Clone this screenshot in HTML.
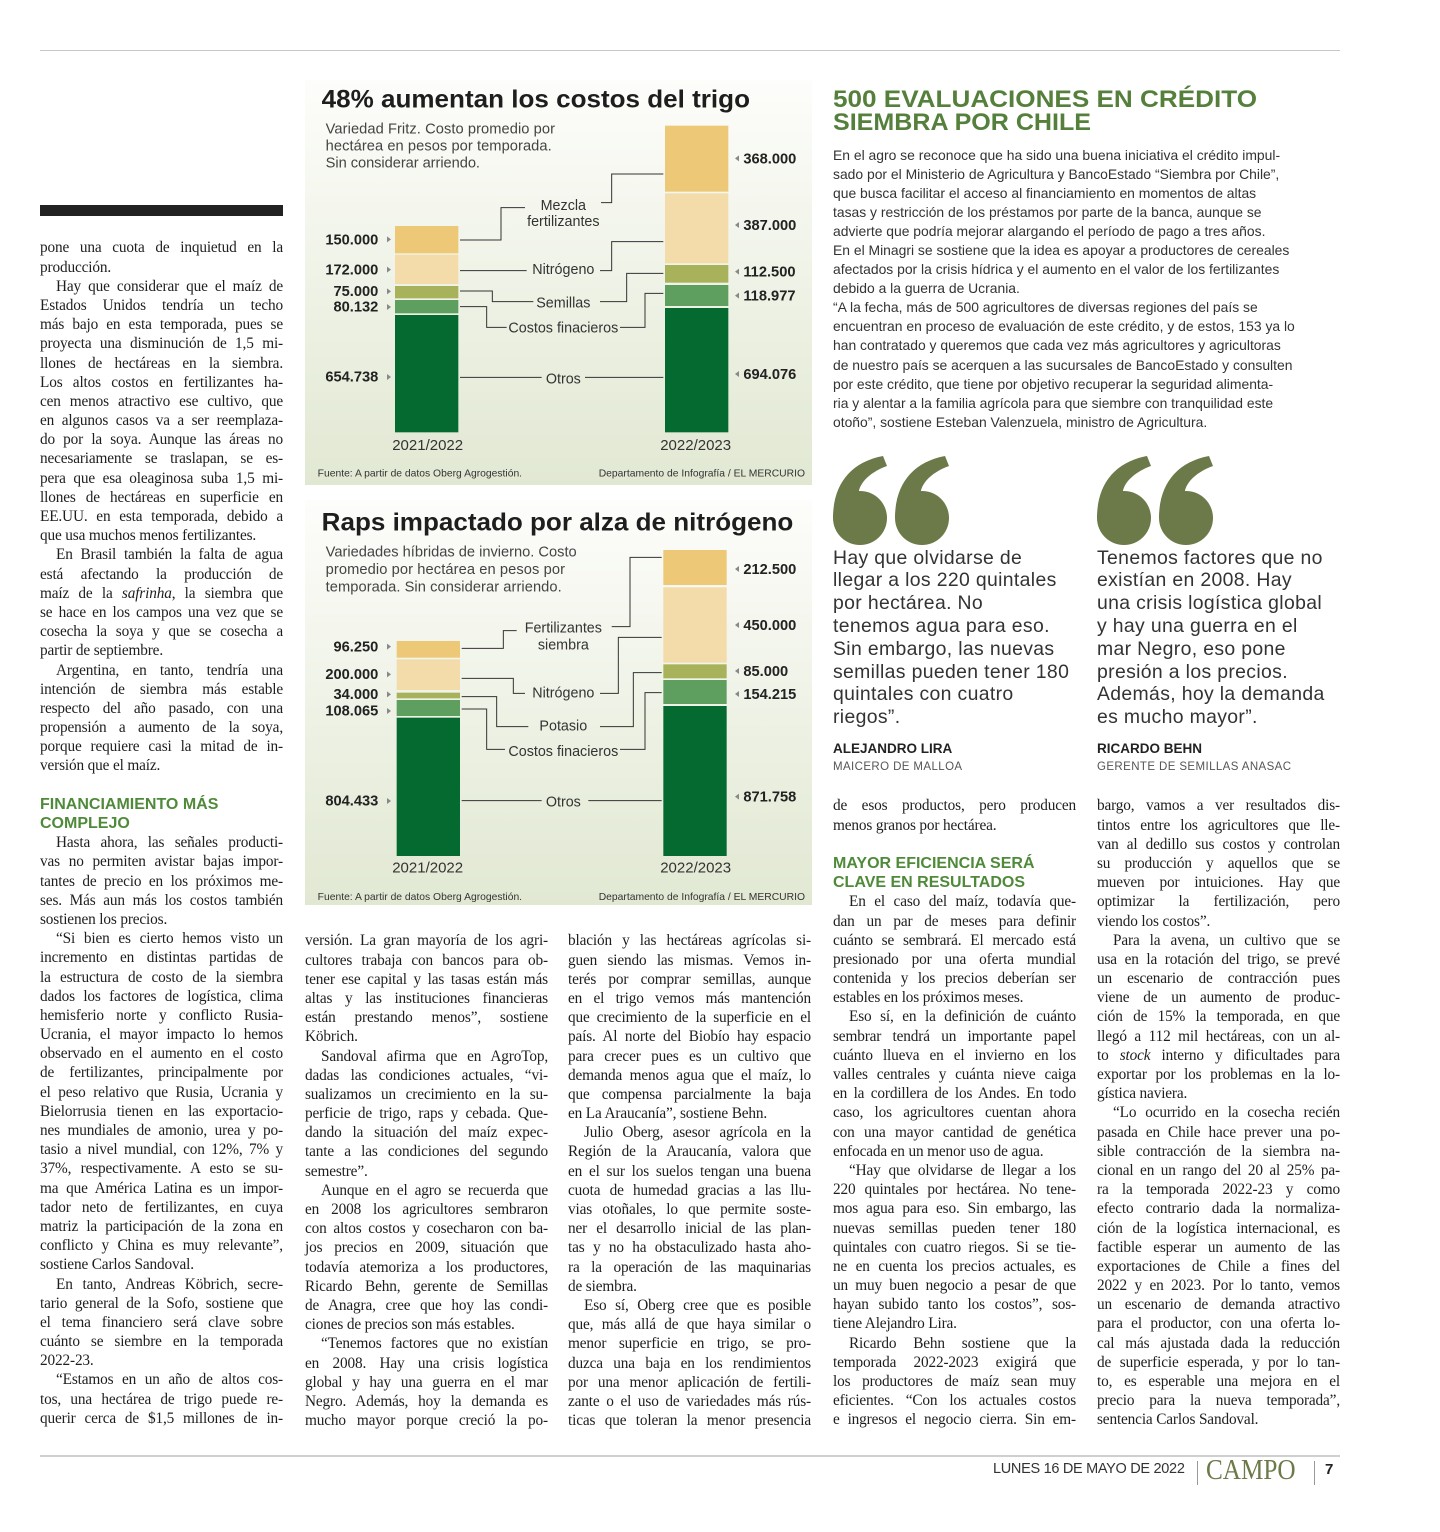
<!DOCTYPE html>
<html><head><meta charset="utf-8"><style>
html,body{margin:0;padding:0;background:#fff}
body{width:1440px;height:1532px;position:relative;overflow:hidden}
.col{position:absolute;width:243px;font:15.3px/19.2px "Liberation Serif",serif;color:#1e1e1e;letter-spacing:-0.15px}
.col div{white-space:nowrap;text-align:justify;text-align-last:justify;height:19.2px}
.col div.e{text-align-last:left}
.col div.i{padding-left:16px}
.col div.h{font:bold 16px/19.2px "Liberation Sans",sans-serif;color:#4f8a3a;text-align-last:left;letter-spacing:0}
.top{position:absolute;left:833px;top:145.5px;font:13.9px/19.1px "Liberation Sans",sans-serif;color:#333;white-space:nowrap}
.q{position:absolute;font:19.4px/22.8px "Liberation Sans",sans-serif;color:#333;white-space:nowrap;letter-spacing:0.35px}
.qn{position:absolute;font:bold 13.5px "Liberation Sans",sans-serif;color:#222}
.qr{position:absolute;font:11.5px "Liberation Sans",sans-serif;color:#555;letter-spacing:0.4px}
.abs{position:absolute}
</style></head><body>

<div class="abs" style="left:40px;top:50px;width:1300px;height:1px;background:#c8c8c8"></div>
<div class="abs" style="left:40px;top:205px;width:243px;height:11px;background:#222"></div>

<!-- Chart 1 -->
<svg class="abs" style="left:305px;top:80px" width="507" height="405" viewBox="0 0 1521 1215" font-family="Liberation Sans, sans-serif">
<defs><linearGradient id="g" x1="0" y1="0" x2="0" y2="1"><stop offset="0" stop-color="#fdfdfb"/><stop offset="1" stop-color="#e1e8d2"/></linearGradient></defs>
<rect width="1521" height="1215" fill="url(#g)"/>
<text x="50" y="82" font-size="76" font-weight="bold" fill="#1e1e1e" textLength="1285" lengthAdjust="spacingAndGlyphs">48% aumentan los costos del trigo</text>
<g font-size="44" fill="#444"><text x="62" y="160" textLength="688">Variedad Fritz. Costo promedio por</text><text x="62" y="212" textLength="678">hectárea en pesos por temporada.</text><text x="62" y="263" textLength="463">Sin considerar arriendo.</text></g>
<rect x="270" y="438" width="190" height="82" fill="#ecc877"/><rect x="270" y="524" width="190" height="88" fill="#f3dcaa"/><rect x="270" y="618" width="190" height="37" fill="#a8b25a"/><rect x="270" y="660" width="190" height="40" fill="#5e9e5f"/><rect x="270" y="705" width="190" height="352" fill="#056a30"/>
<rect x="1080" y="137" width="190" height="198" fill="#ecc877"/><rect x="1080" y="340" width="190" height="210" fill="#f3dcaa"/><rect x="1080" y="555" width="190" height="53" fill="#a8b25a"/><rect x="1080" y="615" width="190" height="63" fill="#5e9e5f"/><rect x="1080" y="684" width="190" height="373" fill="#056a30"/>
<g font-size="44" font-weight="bold" fill="#222" text-anchor="end"><text x="220" y="493">150.000</text><text x="220" y="583">172.000</text><text x="220" y="648">75.000</text><text x="220" y="695">80.132</text><text x="220" y="905">654.738</text></g>
<g fill="#888"><path d="M246 469l12 9-12 9z"/><path d="M246 560l12 9-12 9z"/><path d="M246 625l12 9-12 9z"/><path d="M246 672l12 9-12 9z"/><path d="M246 882l12 9-12 9z"/>
<path d="M1302 226l-12 9 12 9z"/><path d="M1302 426l-12 9 12 9z"/><path d="M1302 566l-12 9 12 9z"/><path d="M1302 638l-12 9 12 9z"/><path d="M1302 873l-12 9 12 9z"/></g>
<g font-size="44" font-weight="bold" fill="#222"><text x="1315" y="250">368.000</text><text x="1315" y="450">387.000</text><text x="1315" y="590">112.500</text><text x="1315" y="662">118.977</text><text x="1315" y="897">694.076</text></g>
<g font-size="43" fill="#333" text-anchor="middle"><text x="775" y="390">Mezcla</text><text x="775" y="438">fertilizantes</text><text x="775" y="582">Nitrógeno</text><text x="775" y="682">Semillas</text><text x="775" y="758">Costos finacieros</text><text x="775" y="910">Otros</text>
<text x="368" y="1110" font-size="45">2021/2022</text><text x="1172" y="1110" font-size="45">2022/2023</text></g>
<g fill="none" stroke="#333" stroke-width="3"><path d="M465 480H588V383H660M888 368H920V282H1075"/><path d="M465 572H665M885 572H920V485H1075"/><path d="M465 633H562V665H685M885 665H965V580H1075"/><path d="M465 680H545V742H605M945 742H1020V640H1075"/><path d="M465 892H710M840 892H1075"/></g>
<g font-size="31" fill="#333"><text x="38" y="1190">Fuente: A partir de datos Oberg Agrogestión.</text><text x="1500" y="1190" text-anchor="end">Departamento de Infografía / EL MERCURIO</text></g>
</svg>

<!-- Chart 2 -->
<svg class="abs" style="left:305px;top:500px" width="507" height="405" viewBox="0 0 1521 1215" font-family="Liberation Sans, sans-serif">
<rect width="1521" height="1215" fill="url(#g)"/>
<text x="50" y="92" font-size="76" font-weight="bold" fill="#1e1e1e" textLength="1415" lengthAdjust="spacingAndGlyphs">Raps impactado por alza de nitrógeno</text>
<g font-size="44" fill="#444"><text x="62" y="170" textLength="753">Variedades híbridas de invierno. Costo</text><text x="62" y="222" textLength="718">promedio por hectárea en pesos por</text><text x="62" y="275" textLength="708">temporada. Sin considerar arriendo.</text></g>
<rect x="275" y="423" width="190" height="50" fill="#ecc877"/><rect x="275" y="478" width="190" height="92" fill="#f3dcaa"/><rect x="275" y="578" width="190" height="17" fill="#a8b25a"/><rect x="275" y="600" width="190" height="48" fill="#5e9e5f"/><rect x="275" y="653" width="190" height="415" fill="#056a30"/>
<rect x="1075" y="150" width="190" height="105" fill="#ecc877"/><rect x="1075" y="262" width="190" height="226" fill="#f3dcaa"/><rect x="1075" y="493" width="190" height="42" fill="#a8b25a"/><rect x="1075" y="540" width="190" height="72" fill="#5e9e5f"/><rect x="1075" y="618" width="190" height="450" fill="#056a30"/>
<g font-size="44" font-weight="bold" fill="#222" text-anchor="end"><text x="220" y="455">96.250</text><text x="220" y="537">200.000</text><text x="220" y="597">34.000</text><text x="220" y="647">108.065</text><text x="220" y="917">804.433</text></g>
<g fill="#888"><path d="M246 431l12 9-12 9z"/><path d="M246 514l12 9-12 9z"/><path d="M246 574l12 9-12 9z"/><path d="M246 624l12 9-12 9z"/><path d="M246 894l12 9-12 9z"/>
<path d="M1302 198l-12 9 12 9z"/><path d="M1302 366l-12 9 12 9z"/><path d="M1302 504l-12 9 12 9z"/><path d="M1302 573l-12 9 12 9z"/><path d="M1302 881l-12 9 12 9z"/></g>
<g font-size="44" font-weight="bold" fill="#222"><text x="1315" y="222">212.500</text><text x="1315" y="390">450.000</text><text x="1315" y="528">85.000</text><text x="1315" y="597">154.215</text><text x="1315" y="905">871.758</text></g>
<g font-size="43" fill="#333" text-anchor="middle"><text x="775" y="398">Fertilizantes</text><text x="775" y="448">siembra</text><text x="775" y="592">Nitrógeno</text><text x="775" y="692">Potasio</text><text x="775" y="768">Costos finacieros</text><text x="775" y="920">Otros</text>
<text x="368" y="1118" font-size="45">2021/2022</text><text x="1172" y="1118" font-size="45">2022/2023</text></g>
<g fill="none" stroke="#333" stroke-width="3"><path d="M470 445H595V392H635M920 380H975V172H1070"/><path d="M470 535H625V580H660M885 580H940V412H1070"/><path d="M470 590H575V680H670M885 680H985V518H1070"/><path d="M470 627H545V748H600M945 748H1020V578H1070"/><path d="M470 902H710M850 902H1070"/></g>
<g font-size="31" fill="#333"><text x="38" y="1200">Fuente: A partir de datos Oberg Agrogestión.</text><text x="1500" y="1200" text-anchor="end">Departamento de Infografía / EL MERCURIO</text></g>
</svg>

<!-- Headline top right -->
<svg class="abs" style="left:833px;top:84px" width="500" height="52" font-family="Liberation Sans, sans-serif">
<text x="0" y="23" font-size="24" font-weight="bold" fill="#55803c" textLength="424" lengthAdjust="spacingAndGlyphs">500 EVALUACIONES EN CRÉDITO</text>
<text x="0" y="46" font-size="24" font-weight="bold" fill="#55803c" textLength="258" lengthAdjust="spacingAndGlyphs">SIEMBRA POR CHILE</text>
</svg>
<div class="top">En el agro se reconoce que ha sido una buena iniciativa el crédito impul-<br>sado por el Ministerio de Agricultura y BancoEstado “Siembra por Chile”,<br>que busca facilitar el acceso al financiamiento en momentos de altas<br>tasas y restricción de los préstamos por parte de la banca, aunque se<br>advierte que podría mejorar alargando el período de pago a tres años.<br>En el Minagri se sostiene que la idea es apoyar a productores de cereales<br>afectados por la crisis hídrica y el aumento en el valor de los fertilizantes<br>debido a la guerra de Ucrania.<br>“A la fecha, más de 500 agricultores de diversas regiones del país se<br>encuentran en proceso de evaluación de este crédito, y de estos, 153 ya lo<br>han contratado y queremos que cada vez más agricultores y agricultoras<br>de nuestro país se acerquen a las sucursales de BancoEstado y consulten<br>por este crédito, que tiene por objetivo recuperar la seguridad alimenta-<br>ria y alentar a la familia agrícola para que siembre con tranquilidad este<br>otoño”, sostiene Esteban Valenzuela, ministro de Agricultura.</div>

<!-- Quote marks -->
<svg class="abs" style="left:830px;top:452px" width="500" height="100">
<g fill="#6b7a48">
<g transform="translate(3,4)"><circle cx="27" cy="62" r="27"/><path d="M0 62C0 28 18 6 50 0L54 10C32 18 24 32 26 40Z"/></g>
<g transform="translate(65,4)"><circle cx="27" cy="62" r="27"/><path d="M0 62C0 28 18 6 50 0L54 10C32 18 24 32 26 40Z"/></g>
<g transform="translate(267,4)"><circle cx="27" cy="62" r="27"/><path d="M0 62C0 28 18 6 50 0L54 10C32 18 24 32 26 40Z"/></g>
<g transform="translate(329,4)"><circle cx="27" cy="62" r="27"/><path d="M0 62C0 28 18 6 50 0L54 10C32 18 24 32 26 40Z"/></g>
</g></svg>
<div class="q" style="left:833px;top:546.6px">Hay que olvidarse de<br>llegar a los 220 quintales<br>por hectárea. No<br>tenemos agua para eso.<br>Sin embargo, las nuevas<br>semillas pueden tener 180<br>quintales con cuatro<br>riegos”.</div>
<div class="q" style="left:1097px;top:546.6px">Tenemos factores que no<br>existían en 2008. Hay<br>una crisis logística global<br>y hay una guerra en el<br>mar Negro, eso pone<br>presión a los precios.<br>Además, hoy la demanda<br>es mucho mayor”.</div>
<div class="qn" style="left:833px;top:741px">ALEJANDRO LIRA</div>
<div class="qr" style="left:833px;top:761px">MAICERO DE MALLOA</div>
<div class="qn" style="left:1097px;top:741px">RICARDO BEHN</div>
<div class="qr" style="left:1097px;top:761px">GERENTE DE SEMILLAS ANASAC</div>

<!-- Column 1 -->
<div class="col" style="left:40px;top:238.4px">
<div>pone una cuota de inquietud en la</div><div class="e">producción.</div>
<div class="i">Hay que considerar que el maíz de</div><div>Estados Unidos tendría un techo</div><div>más bajo en esta temporada, pues se</div><div>proyecta una disminución de 1,5 mi-</div><div>llones de hectáreas en la siembra.</div><div>Los altos costos en fertilizantes ha-</div><div>cen menos atractivo ese cultivo, que</div><div>en algunos casos va a ser reemplaza-</div><div>do por la soya. Aunque las áreas no</div><div>necesariamente se traslapan, se es-</div><div>pera que esa oleaginosa suba 1,5 mi-</div><div>llones de hectáreas en superficie en</div><div>EE.UU. en esta temporada, debido a</div><div class="e">que usa muchos menos fertilizantes.</div>
<div class="i">En Brasil también la falta de agua</div><div>está afectando la producción de</div><div>maíz de la <i>safrinha</i>, la siembra que</div><div>se hace en los campos una vez que se</div><div>cosecha la soya y que se cosecha a</div><div class="e">partir de septiembre.</div>
<div class="i">Argentina, en tanto, tendría una</div><div>intención de siembra más estable</div><div>respecto del año pasado, con una</div><div>propensión a aumento de la soya,</div><div>porque requiere casi la mitad de in-</div><div class="e">versión que el maíz.</div>
<div class="e"></div>
<div class="h">FINANCIAMIENTO MÁS</div><div class="h">COMPLEJO</div>
<div class="i">Hasta ahora, las señales producti-</div><div>vas no permiten avistar bajas impor-</div><div>tantes de precio en los próximos me-</div><div>ses. Más aun más los costos también</div><div class="e">sostienen los precios.</div>
<div class="i">“Si bien es cierto hemos visto un</div><div>incremento en distintas partidas de</div><div>la estructura de costo de la siembra</div><div>dados los factores de logística, clima</div><div>hemisferio norte y conflicto Rusia-</div><div>Ucrania, el mayor impacto lo hemos</div><div>observado en el aumento en el costo</div><div>de fertilizantes, principalmente por</div><div>el peso relativo que Rusia, Ucrania y</div><div>Bielorrusia tienen en las exportacio-</div><div>nes mundiales de amonio, urea y po-</div><div>tasio a nivel mundial, con 12%, 7% y</div><div>37%, respectivamente. A esto se su-</div><div>ma que América Latina es un impor-</div><div>tador neto de fertilizantes, en cuya</div><div>matriz la participación de la zona en</div><div>conflicto y China es muy relevante”,</div><div class="e">sostiene Carlos Sandoval.</div>
<div class="i">En tanto, Andreas Köbrich, secre-</div><div>tario general de la Sofo, sostiene que</div><div>el tema financiero será clave sobre</div><div>cuánto se siembre en la temporada</div><div class="e">2022-23.</div>
<div class="i">“Estamos en un año de altos cos-</div><div>tos, una hectárea de trigo puede re-</div><div>querir cerca de $1,5 millones de in-</div>
</div>

<!-- Column 2 -->
<div class="col" style="left:305px;top:931.4px">
<div>versión. La gran mayoría de los agri-</div><div>cultores trabaja con bancos para ob-</div><div>tener ese capital y las tasas están más</div><div>altas y las instituciones financieras</div><div>están prestando menos”, sostiene</div><div class="e">Köbrich.</div>
<div class="i">Sandoval afirma que en AgroTop,</div><div>dadas las condiciones actuales, “vi-</div><div>sualizamos un crecimiento en la su-</div><div>perficie de trigo, raps y cebada. Que-</div><div>dando la situación del maíz expec-</div><div>tante a las condiciones del segundo</div><div class="e">semestre”.</div>
<div class="i">Aunque en el agro se recuerda que</div><div>en 2008 los agricultores sembraron</div><div>con altos costos y cosecharon con ba-</div><div>jos precios en 2009, situación que</div><div>todavía atemoriza a los productores,</div><div>Ricardo Behn, gerente de Semillas</div><div>de Anagra, cree que hoy las condi-</div><div class="e">ciones de precios son más estables.</div>
<div class="i">“Tenemos factores que no existían</div><div>en 2008. Hay una crisis logística</div><div>global y hay una guerra en el mar</div><div>Negro. Además, hoy la demanda es</div><div>mucho mayor porque creció la po-</div>
</div>

<!-- Column 3 -->
<div class="col" style="left:568px;top:931.4px">
<div>blación y las hectáreas agrícolas si-</div><div>guen siendo las mismas. Vemos in-</div><div>terés por comprar semillas, aunque</div><div>en el trigo vemos más mantención</div><div>que crecimiento de la superficie en el</div><div>país. Al norte del Biobío hay espacio</div><div>para crecer pues es un cultivo que</div><div>demanda menos agua que el maíz, lo</div><div>que compensa parcialmente la baja</div><div class="e">en La Araucanía”, sostiene Behn.</div>
<div class="i">Julio Oberg, asesor agrícola en la</div><div>Región de la Araucanía, valora que</div><div>en el sur los suelos tengan una buena</div><div>cuota de humedad gracias a las llu-</div><div>vias otoñales, lo que permite soste-</div><div>ner el desarrollo inicial de las plan-</div><div>tas y no ha obstaculizado hasta aho-</div><div>ra la operación de las maquinarias</div><div class="e">de siembra.</div>
<div class="i">Eso sí, Oberg cree que es posible</div><div>que, más allá de que haya similar o</div><div>menor superficie en trigo, se pro-</div><div>duzca una baja en los rendimientos</div><div>por una menor aplicación de fertili-</div><div>zante o el uso de variedades más rús-</div><div>ticas que toleran la menor presencia</div>
</div>

<!-- Column 4 -->
<div class="col" style="left:833px;top:796.4px">
<div>de esos productos, pero producen</div><div class="e">menos granos por hectárea.</div>
<div class="e"></div>
<div class="h">MAYOR EFICIENCIA SERÁ</div><div class="h">CLAVE EN RESULTADOS</div>
<div class="i">En el caso del maíz, todavía que-</div><div>dan un par de meses para definir</div><div>cuánto se sembrará. El mercado está</div><div>presionado por una oferta mundial</div><div>contenida y los precios deberían ser</div><div class="e">estables en los próximos meses.</div>
<div class="i">Eso sí, en la definición de cuánto</div><div>sembrar tendrá un importante papel</div><div>cuánto llueva en el invierno en los</div><div>valles centrales y cuánta nieve caiga</div><div>en la cordillera de los Andes. En todo</div><div>caso, los agricultores cuentan ahora</div><div>con una mayor cantidad de genética</div><div class="e">enfocada en un menor uso de agua.</div>
<div class="i">“Hay que olvidarse de llegar a los</div><div>220 quintales por hectárea. No tene-</div><div>mos agua para eso. Sin embargo, las</div><div>nuevas semillas pueden tener 180</div><div>quintales con cuatro riegos. Si se tie-</div><div>ne en cuenta los precios actuales, es</div><div>un muy buen negocio a pesar de que</div><div>hayan subido tanto los costos”, sos-</div><div class="e">tiene Alejandro Lira.</div>
<div class="i">Ricardo Behn sostiene que la</div><div>temporada 2022-2023 exigirá que</div><div>los productores de maíz sean muy</div><div>eficientes. “Con los actuales costos</div><div>e ingresos el negocio cierra. Sin em-</div>
</div>

<!-- Column 5 -->
<div class="col" style="left:1097px;top:796.4px">
<div>bargo, vamos a ver resultados dis-</div><div>tintos entre los agricultores que lle-</div><div>van al dedillo sus costos y controlan</div><div>su producción y aquellos que se</div><div>mueven por intuiciones. Hay que</div><div>optimizar la fertilización, pero</div><div class="e">viendo los costos”.</div>
<div class="i">Para la avena, un cultivo que se</div><div>usa en la rotación del trigo, se prevé</div><div>un escenario de contracción pues</div><div>viene de un aumento de produc-</div><div>ción de 15% la temporada, en que</div><div>llegó a 112 mil hectáreas, con un al-</div><div>to <i>stock</i> interno y dificultades para</div><div>exportar por los problemas en la lo-</div><div class="e">gística naviera.</div>
<div class="i">“Lo ocurrido en la cosecha recién</div><div>pasada en Chile hace prever una po-</div><div>sible contracción de la siembra na-</div><div>cional en un rango del 20 al 25% pa-</div><div>ra la temporada 2022-23 y como</div><div>efecto contrario dada la normaliza-</div><div>ción de la logística internacional, es</div><div>factible esperar un aumento de las</div><div>exportaciones de Chile a fines del</div><div>2022 y en 2023. Por lo tanto, vemos</div><div>un escenario de demanda atractivo</div><div>para el productor, con una oferta lo-</div><div>cal más ajustada dada la reducción</div><div>de superficie esperada, y por lo tan-</div><div>to, es esperable una mejora en el</div><div>precio para la nueva temporada”,</div><div class="e">sentencia Carlos Sandoval.</div>
</div>

<!-- Footer -->
<div class="abs" style="left:40px;top:1455px;width:1300px;height:2px;background:#cfcfcf"></div>
<div class="abs" style="left:993px;top:1461px;font:14.5px 'Liberation Sans',sans-serif;color:#333;letter-spacing:-0.3px">LUNES 16 DE MAYO DE 2022</div>
<div class="abs" style="left:1197px;top:1461px;width:1px;height:24px;background:#999"></div>
<div class="abs" style="left:1206px;top:1455px;font:28px 'Liberation Serif',serif;color:#6b7a48;transform:scaleX(0.9);transform-origin:left">CAMPO</div>
<div class="abs" style="left:1314px;top:1461px;width:1px;height:24px;background:#999"></div>
<div class="abs" style="left:1325px;top:1461px;font:bold 15px 'Liberation Sans',sans-serif;color:#222">7</div>
</body></html>
